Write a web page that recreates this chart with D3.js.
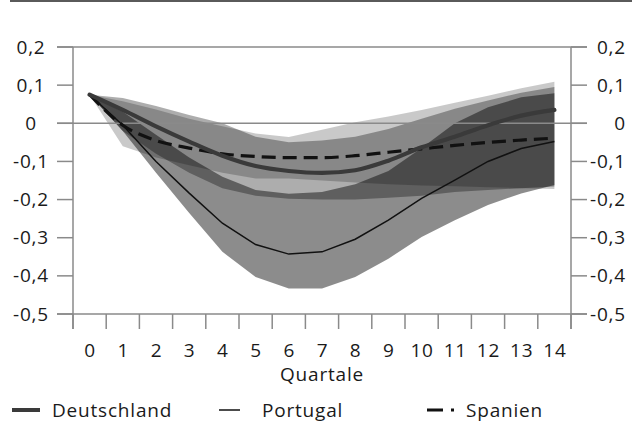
<!DOCTYPE html>
<html>
<head>
<meta charset="utf-8">
<script src="https://cdn.jsdelivr.net/npm/d3@7"></script>
<style>
  body { margin: 0; background: #fff; }
  svg text { font-family: "Open Sans", sans-serif; font-size: 19px; fill: #1a1a1a; letter-spacing: 0.8px; }
</style>
</head>
<body>
<svg id="chart" width="632" height="423"></svg>
<script>
// quarters after the shock
var quarters = [0, 1, 2, 3, 4, 5, 6, 7, 8, 9, 10, 11, 12, 13, 14];
var yTicks = [0.2, 0.1, 0, -0.1, -0.2, -0.3, -0.4, -0.5];

// Deutschland
var deLine  = [0.075, 0.035, -0.008, -0.048, -0.085, -0.112, -0.125, -0.13, -0.123, -0.098, -0.063, -0.035, -0.005, 0.02, 0.035];
var deUpper = [0.075, 0.066, 0.045, 0.022, 0.0, -0.035, -0.05, -0.045, -0.035, -0.015, 0.012, 0.038, 0.06, 0.08, 0.095];
var deLower = [0.075, -0.02, -0.08, -0.13, -0.17, -0.19, -0.198, -0.2, -0.2, -0.195, -0.19, -0.18, -0.175, -0.17, -0.166];

// Portugal
var ptLine  = [0.075, -0.005, -0.10, -0.183, -0.262, -0.318, -0.343, -0.337, -0.304, -0.254, -0.197, -0.149, -0.10, -0.066, -0.048];
var ptUpper = [0.075, 0.03, -0.03, -0.09, -0.14, -0.175, -0.185, -0.18, -0.16, -0.125, -0.065, 0.0, 0.042, 0.068, 0.079];
var ptLower = [0.075, -0.02, -0.13, -0.235, -0.337, -0.403, -0.433, -0.433, -0.403, -0.355, -0.298, -0.254, -0.214, -0.184, -0.162];

// Spanien
var esLine  = [0.075, -0.005, -0.045, -0.065, -0.08, -0.087, -0.09, -0.09, -0.085, -0.076, -0.067, -0.058, -0.05, -0.044, -0.039];
var esUpper = [0.075, 0.058, 0.036, 0.012, -0.008, -0.027, -0.036, -0.017, 0.003, 0.018, 0.035, 0.054, 0.072, 0.092, 0.109];
var esLower = [0.075, -0.06, -0.09, -0.11, -0.13, -0.145, -0.145, -0.15, -0.155, -0.16, -0.163, -0.165, -0.168, -0.17, -0.172];

var svg = d3.select("svg#chart"),
    width = +svg.attr("width"),
    margin = { left: 73, right: 64, top: 47, bottom: 109 },
    plotRight = width - margin.right + 3,
    plotBottom = 314,
    tick = 16,
    x = d3.scaleBand().domain(quarters).range([margin.left, plotRight]),
    y = d3.scaleLinear().domain([-0.5, 0.2]).range([plotBottom, margin.top]),
    fmt = d => d3.format(".1f")(d).replace(".", ",").replace("0,0", "0").replace("−", "-");

var cx = i => x(quarters[i]) + x.bandwidth() / 2;

// top rule
svg.append("line")
    .attr("x1", 10).attr("x2", width)
    .attr("y1", 1).attr("y2", 1)
    .style("stroke", "#5a5a5a")
    .style("stroke-width", 2);

// confidence bands
var bands = [
    { lo: esLower, hi: esUpper, op: 0.21 },
    { lo: deLower, hi: deUpper, op: 0.32 },
    { lo: ptLower, hi: ptUpper, op: 0.45 }
];
var area = d3.area()
    .x((d, i) => cx(i))
    .y0(d => y(d[0]))
    .y1(d => y(d[1]));

svg.append("g").selectAll("path")
    .data(bands)
    .enter()
    .append("path")
    .attr("d", b => area(b.lo.map((v, i) => [v, b.hi[i]])))
    .style("fill", "#000")
    .style("fill-opacity", b => b.op);

// grid lines at 0,2 and 0 plus axes
var axisColor = "#8a8a8a";
var g = svg.append("g");
[0.2, 0].forEach(v => {
    g.append("line")
        .attr("x1", margin.left - tick).attr("x2", plotRight + tick)
        .attr("y1", y(v)).attr("y2", y(v))
        .style("stroke", axisColor).style("stroke-width", 1.5);
});
g.append("line")
    .attr("x1", margin.left - tick).attr("x2", plotRight + tick)
    .attr("y1", plotBottom).attr("y2", plotBottom)
    .style("stroke", axisColor).style("stroke-width", 1.5);

[margin.left, plotRight].forEach(xx => {
    g.append("line")
        .attr("x1", xx).attr("x2", xx)
        .attr("y1", y(0.2)).attr("y2", plotBottom + tick - 1)
        .style("stroke", axisColor).style("stroke-width", 1.5);
});

// y ticks left and right
g.selectAll(".ytl")
    .data(yTicks)
    .enter()
    .append("line")
    .attr("x1", margin.left - tick).attr("x2", margin.left)
    .attr("y1", d => y(d)).attr("y2", d => y(d))
    .style("stroke", axisColor).style("stroke-width", 1.5);
g.selectAll(".ytr")
    .data(yTicks)
    .enter()
    .append("line")
    .attr("x1", plotRight).attr("x2", plotRight + tick)
    .attr("y1", d => y(d)).attr("y2", d => y(d))
    .style("stroke", axisColor).style("stroke-width", 1.5);

g.selectAll(".ylabL")
    .data(yTicks)
    .enter()
    .append("text")
    .attr("x", 31)
    .attr("y", d => y(d) + 6.5)
    .style("text-anchor", "middle")
    .text(fmt);
g.selectAll(".ylabR")
    .data(yTicks)
    .enter()
    .append("text")
    .attr("x", 626)
    .attr("y", d => y(d) + 6.5)
    .style("text-anchor", "end")
    .text(fmt);

// x ticks at band boundaries
var bounds = quarters.map(q => x(q)).concat([plotRight]);
g.selectAll(".xt")
    .data(bounds)
    .enter()
    .append("line")
    .attr("x1", d => d).attr("x2", d => d)
    .attr("y1", plotBottom).attr("y2", plotBottom + tick - 1)
    .style("stroke", axisColor).style("stroke-width", 1.5);

g.selectAll(".xlab")
    .data(quarters)
    .enter()
    .append("text")
    .attr("x", (d, i) => cx(i) + 0.5)
    .attr("y", 357)
    .style("text-anchor", "middle")
    .text(d => d);

g.append("text")
    .attr("x", (margin.left + plotRight) / 2)
    .attr("y", 381)
    .style("text-anchor", "middle")
    .text("Quartale");

// lines
var line = d3.line().x((d, i) => cx(i)).y(d => y(d));
var smooth = d3.line().x((d, i) => cx(i)).y(d => y(d)).curve(d3.curveMonotoneX);

svg.append("path")
    .attr("d", line(ptLine))
    .style("fill", "none")
    .style("stroke", "#111")
    .style("stroke-width", 1.5);

svg.append("path")
    .attr("d", smooth(esLine))
    .style("fill", "none")
    .style("stroke", "#111")
    .style("stroke-width", 3.2)
    .style("stroke-dasharray", "14,7");

svg.append("path")
    .attr("d", smooth(deLine))
    .style("fill", "none")
    .style("stroke", "#3a3a3a")
    .style("stroke-width", 4.2)
    .style("stroke-linecap", "round");

// legend
var legend = svg.append("g").attr("class", "legend");
var legY = 410;

legend.append("line")
    .attr("x1", 12).attr("x2", 40).attr("y1", legY).attr("y2", legY)
    .style("stroke", "#3a3a3a").style("stroke-width", 4);
legend.append("text").attr("x", 52).attr("y", legY + 6.5).text("Deutschland");

legend.append("line")
    .attr("x1", 219).attr("x2", 240).attr("y1", legY).attr("y2", legY)
    .style("stroke", "#111").style("stroke-width", 1.5);
legend.append("text").attr("x", 262).attr("y", legY + 6.5).text("Portugal");

legend.append("line")
    .attr("x1", 427).attr("x2", 457).attr("y1", legY).attr("y2", legY)
    .style("stroke", "#111").style("stroke-width", 3)
    .style("stroke-dasharray", "16,8,3,20");
legend.append("text").attr("x", 466).attr("y", legY + 6.5).text("Spanien");
</script>
</body>
</html>
